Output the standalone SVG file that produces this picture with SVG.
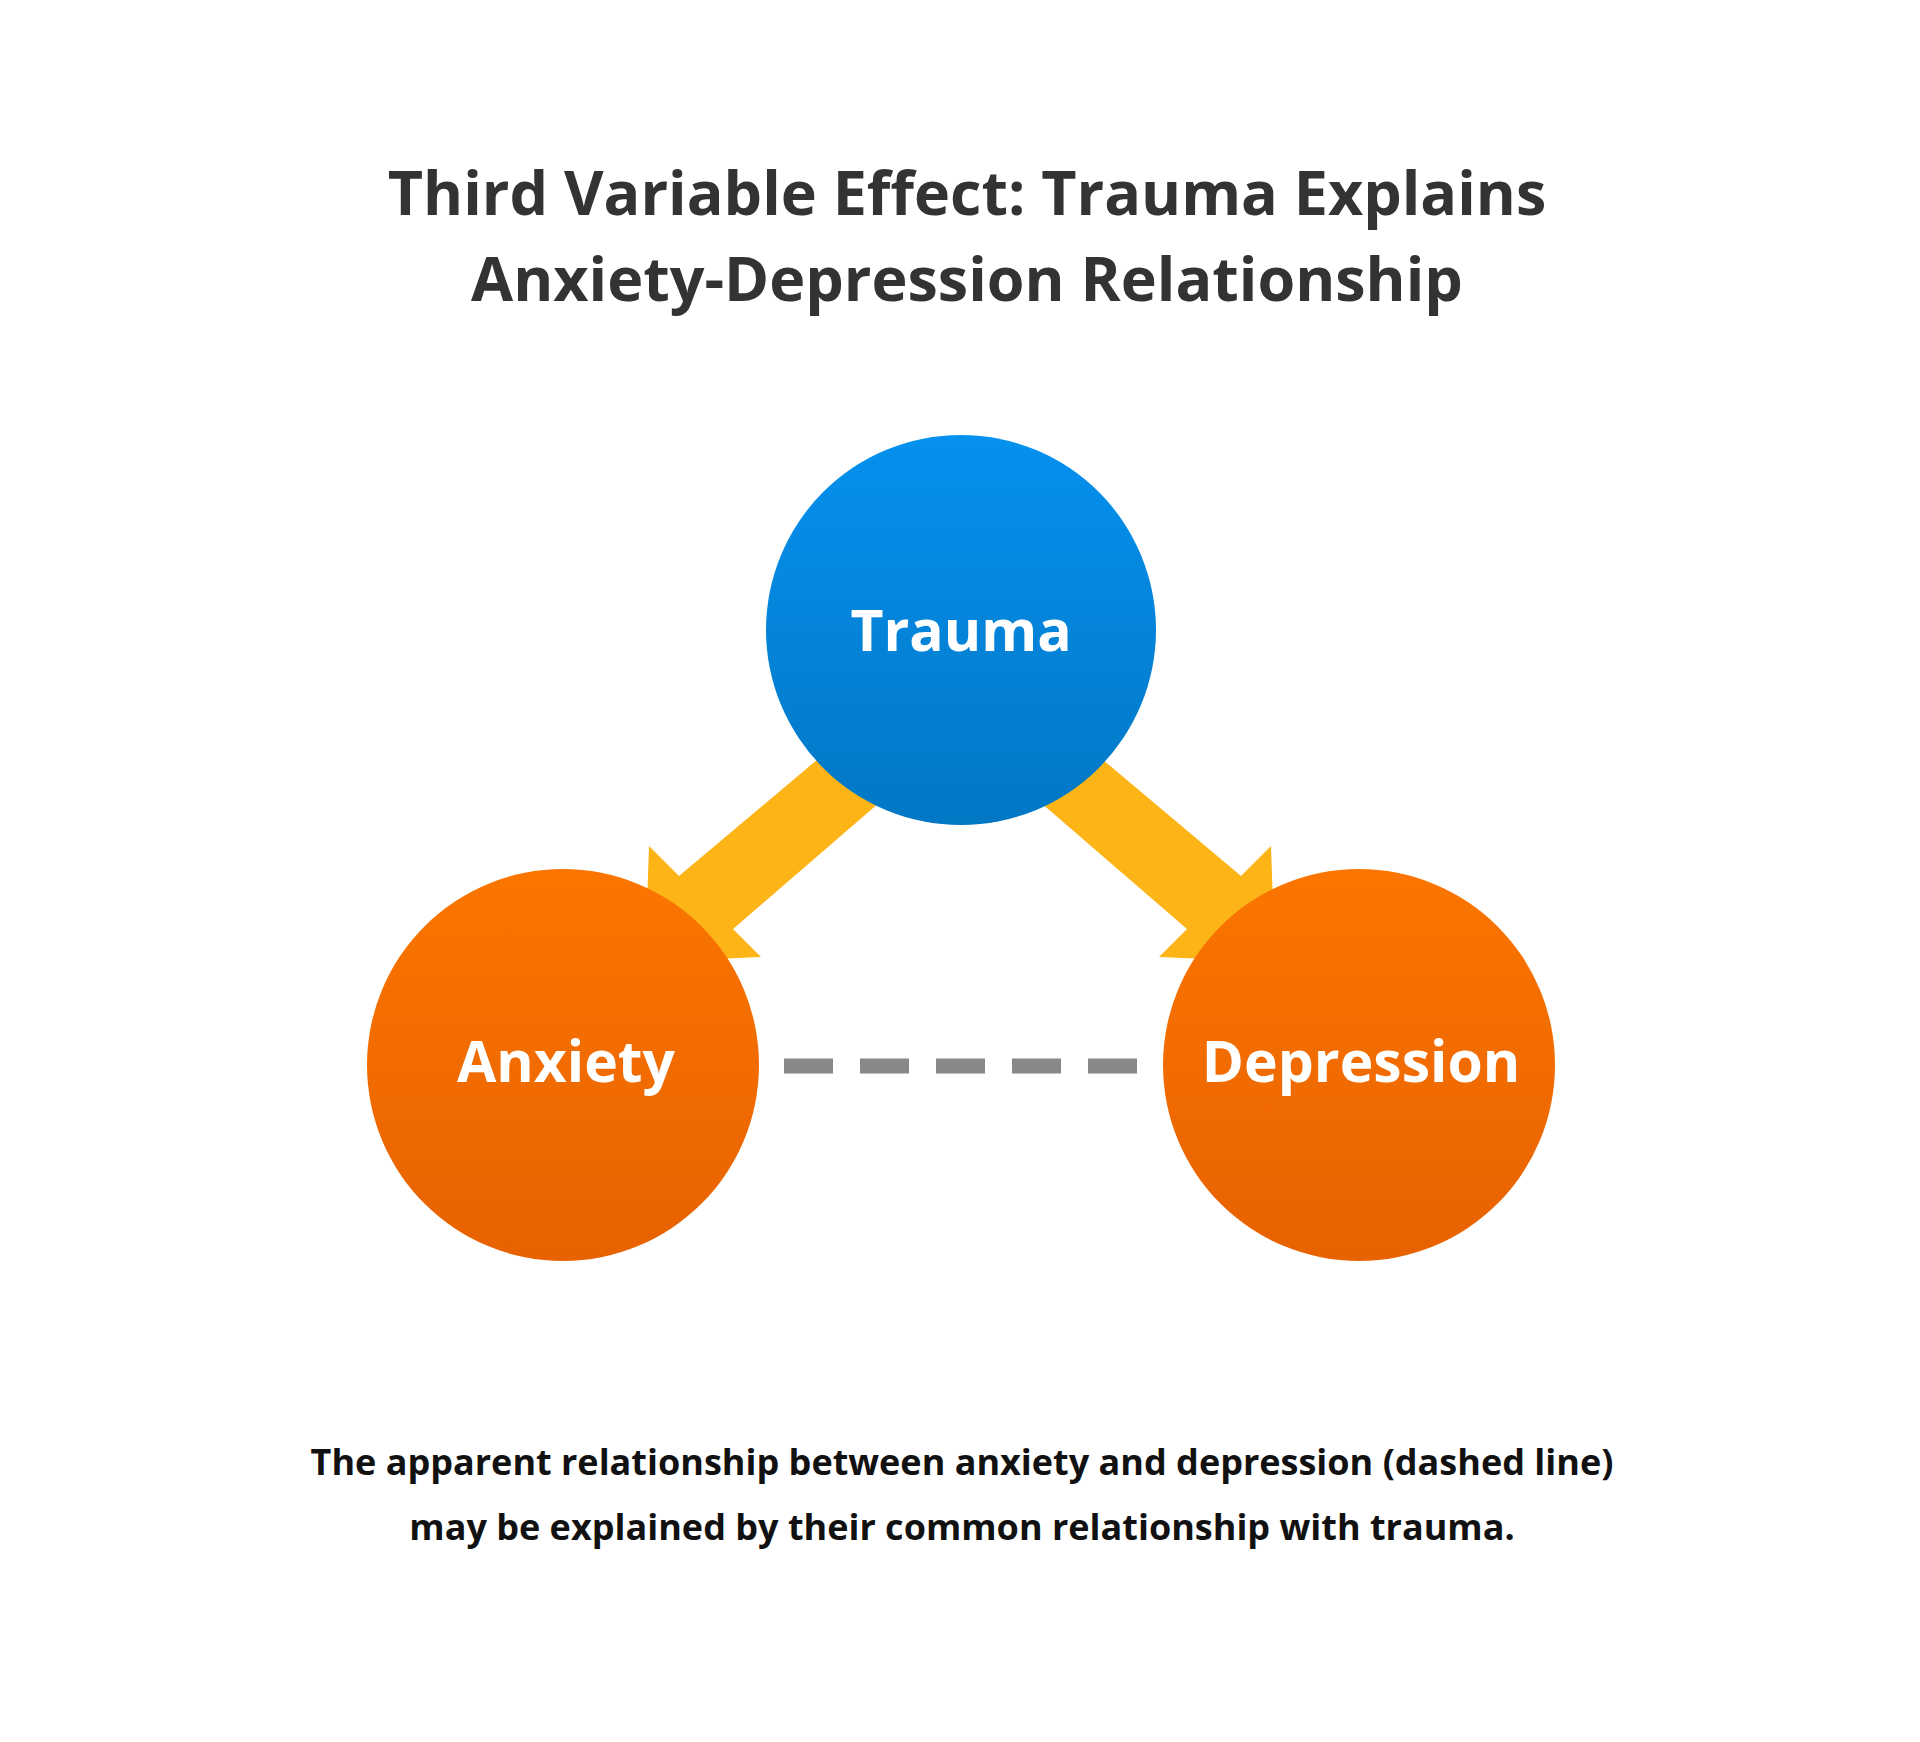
<svg xmlns="http://www.w3.org/2000/svg" width="1920" height="1742" viewBox="0 0 1920 1742">
<defs>
<linearGradient id="gb" x1="0" y1="0" x2="0" y2="1"><stop offset="0" stop-color="#0591EF"/><stop offset="1" stop-color="#0277C4"/></linearGradient>
<linearGradient id="go" x1="0" y1="0" x2="0" y2="1"><stop offset="0" stop-color="#FB7500"/><stop offset="1" stop-color="#E76200"/></linearGradient>
<style>
text{font-family:"Open Sans","Noto Sans",sans-serif;font-weight:bold;text-anchor:middle}
.t{font-size:61px;fill:#333}
.n{font-size:57px;fill:#fff}
.c{font-size:36px;fill:#111}
.a{fill:#FDB417}
</style>
</defs>
<rect width="1920" height="1742" fill="#fff"/>
<text class="t" x="967" y="215">Third Variable Effect: Trauma Explains</text>
<text class="t" x="967" y="301">Anxiety-Depression Relationship</text>
<g id="connectors">
<polygon class="a" points="900,690 953,739 733,929 761,957 645,962 649,846 679,876"/>
<polygon class="a" points="1020,690 967,739 1187,929 1159,957 1275,962 1271,846 1241,876"/>
<line x1="784" y1="1066" x2="1139" y2="1066" stroke="#888" stroke-width="15" stroke-dasharray="49,27"/>
</g>
<g id="trauma"><circle cx="961" cy="630" r="195" fill="url(#gb)"/><text class="n" x="961" y="651">Trauma</text></g>
<g id="anxiety"><circle cx="563" cy="1065" r="196" fill="url(#go)"/><text class="n" x="566" y="1082">Anxiety</text></g>
<g id="depression"><circle cx="1359" cy="1065" r="196" fill="url(#go)"/><text class="n" x="1361" y="1082">Depression</text></g>
<text class="c" x="962" y="1475">The apparent relationship between anxiety and depression (dashed line)</text>
<text class="c" x="962" y="1540">may be explained by their common relationship with trauma.</text>
</svg>
